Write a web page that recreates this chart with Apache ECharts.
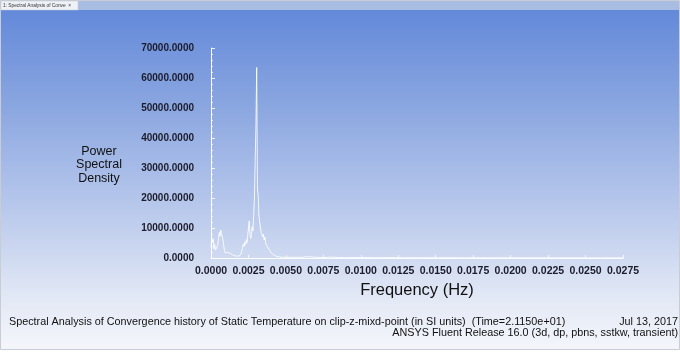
<!DOCTYPE html>
<html>
<head>
<meta charset="utf-8">
<script src="https://cdn.jsdelivr.net/npm/echarts@6/dist/echarts.min.js"></script>
<style>html,body{margin:0;padding:0;background:#fff;}#c{width:680px;height:361px;}</style>
</head>
<body>
<div id="c"></div>
<script>
// Frequency (Hz) and power spectral density values
var freq = [0.00000,0.00005,0.00010,0.00015,0.00020,0.00025,0.00030,0.00035,0.00040,0.00045,
            0.00050,0.00055,0.00060,0.00065,0.00070,0.00075,0.00080,0.00085,0.00090,0.00095,
            0.00100,0.00110,0.00120,0.00130,0.00140,0.00150,0.00160,0.00170,0.00180,0.00190,
            0.00200,0.00205,0.00210,0.00215,0.00220,0.00225,0.00230,0.00235,0.00240,0.00245,
            0.00250,0.00255,0.00260,0.00265,0.00270,0.00275,0.00280,0.00285,0.00290,0.00295,
            0.00300,0.00305,0.00310,0.00315,0.00320,0.00325,0.00330,0.00335,0.00340,0.00345,
            0.00350,0.00355,0.00360,0.00365,0.00370,0.00380,0.00390,0.00400,0.00420,0.00440,
            0.00460,0.00480,0.00500,0.00550,0.00600,0.00650,0.00700,0.00750,0.00800,0.00850,
            0.00900,0.01000,0.01100,0.01200,0.01300,0.01400,0.01500,0.01600,0.01700,0.01800,
            0.01900,0.02000,0.02100,0.02200,0.02300,0.02400,0.02500,0.02600,0.02700,0.02750];
var psd  = [3500,7000,5200,6300,3000,4500,2600,2200,2800,4200,
            6500,8500,7200,9300,8200,8800,6000,4200,2500,1700,
            2200,1900,2100,1500,1200,900,800,600,900,700,
            1400,2300,3200,4600,3800,5200,4400,6100,5000,7500,
            10000,12300,8000,6500,7800,10500,9000,14500,20000,33000,
            44000,63500,23000,21000,14000,12000,10000,8500,9000,7000,
            8000,6000,7000,5000,4200,3600,2700,1800,1000,500,
            300,250,200,250,200,420,250,150,300,200,
            120,150,100,130,90,110,80,100,70,90,
            60,80,60,70,50,60,50,40,50,40];
var yTicks = [0,10000,20000,30000,40000,50000,60000,70000];
var xTicks = [0,0.0025,0.005,0.0075,0.01,0.0125,0.015,0.0175,0.02,0.0225,0.025,0.0275];

var points = freq.map(function(f,i){return [f, psd[i]];});
var FONT = '"Liberation Sans", Arial, sans-serif';
var chart = echarts.init(document.getElementById('c'), null, {renderer:'canvas'});
chart.setOption({
  animation:false,
  backgroundColor:'#ffffff',
  graphic:[
    {type:'rect', z:-10, silent:true, shape:{x:0.5,y:0.5,width:679,height:349},
     style:{fill:{type:'linear',x:0,y:0,x2:0,y2:1,colorStops:[
       {offset:0,color:'#5f86d9'},{offset:0.3,color:'#8aa6e0'},{offset:0.6,color:'#b9c9ec'},
       {offset:0.85,color:'#e2e8f5'},{offset:1,color:'#f4f6fb'}]}, stroke:'#c9ccd2', lineWidth:1}},
    {type:'rect', z:-9, silent:true, shape:{x:1,y:1,width:678,height:9}, style:{fill:'#a9bde3'}},
    {type:'rect', z:-8, silent:true, shape:{x:1,y:1,width:77,height:9}, style:{fill:'#eef1f6', stroke:'#c4cbd6', lineWidth:0.5}},
    {type:'text', silent:true, style:{x:3, y:5.5, text:'1: Spectral Analysis of Conve  \u00d7', font:'4.8px ' + FONT, fill:'#333', verticalAlign:'middle'}},
    {type:'text', silent:true, style:{x:99, y:165, text:'Power\nSpectral\nDensity', font:'12.5px ' + FONT, lineHeight:13.5, fill:'#111', align:'center', verticalAlign:'middle'}},
    {type:'text', silent:true, style:{x:9, y:322, text:'Spectral Analysis of Convergence history of Static Temperature on clip-z-mixd-point (in SI units)  (Time=2.1150e+01)', font:'10.8px ' + FONT, fill:'#111', verticalAlign:'middle'}},
    {type:'text', silent:true, style:{x:678, y:322, text:'Jul 13, 2017', font:'10.8px ' + FONT, fill:'#111', align:'right', verticalAlign:'middle'}},
    {type:'text', silent:true, style:{x:678, y:333, text:'ANSYS Fluent Release 16.0 (3d, dp, pbns, sstkw, transient)', font:'10.8px ' + FONT, fill:'#111', align:'right', verticalAlign:'middle'}}
  ],
  grid:{left:211, right:57, top:48, bottom:103, containLabel:false},
  xAxis:{type:'value', min:xTicks[0], max:xTicks[xTicks.length-1], interval:0.0025,
    name:'Frequency (Hz)', nameLocation:'middle', nameGap:23,
    nameTextStyle:{fontSize:16.5, color:'#111', fontFamily:FONT},
    axisLine:{show:true, lineStyle:{color:'rgba(255,255,255,0.9)', width:1}},
    axisTick:{show:true, inside:true, length:3, lineStyle:{color:'rgba(255,255,255,0.8)'}},
    splitLine:{show:false},
    axisLabel:{margin:8, fontSize:10.5, fontWeight:'bold', color:'#1c1c2c', fontFamily:FONT,
      formatter:function(v){return v.toFixed(4);}}},
  yAxis:{type:'value', min:yTicks[0], max:yTicks[yTicks.length-1], interval:10000,
    axisLine:{show:true, lineStyle:{color:'rgba(255,255,255,0.95)', width:1}},
    axisTick:{show:true, inside:true, length:4, lineStyle:{color:'rgba(255,255,255,0.85)'}},
    minorTick:{show:true, splitNumber:5, length:2, lineStyle:{color:'rgba(255,255,255,0.7)'}},
    splitLine:{show:false},
    axisLabel:{margin:17, fontSize:10, fontWeight:'bold', color:'#1c1c2c', fontFamily:FONT,
      formatter:function(v){return v.toFixed(4);}}},
  series:[{type:'line', data:points, showSymbol:false, symbol:'none',
    lineStyle:{color:'rgba(255,255,255,0.85)', width:1}}]
});
</script>
</body>
</html>
